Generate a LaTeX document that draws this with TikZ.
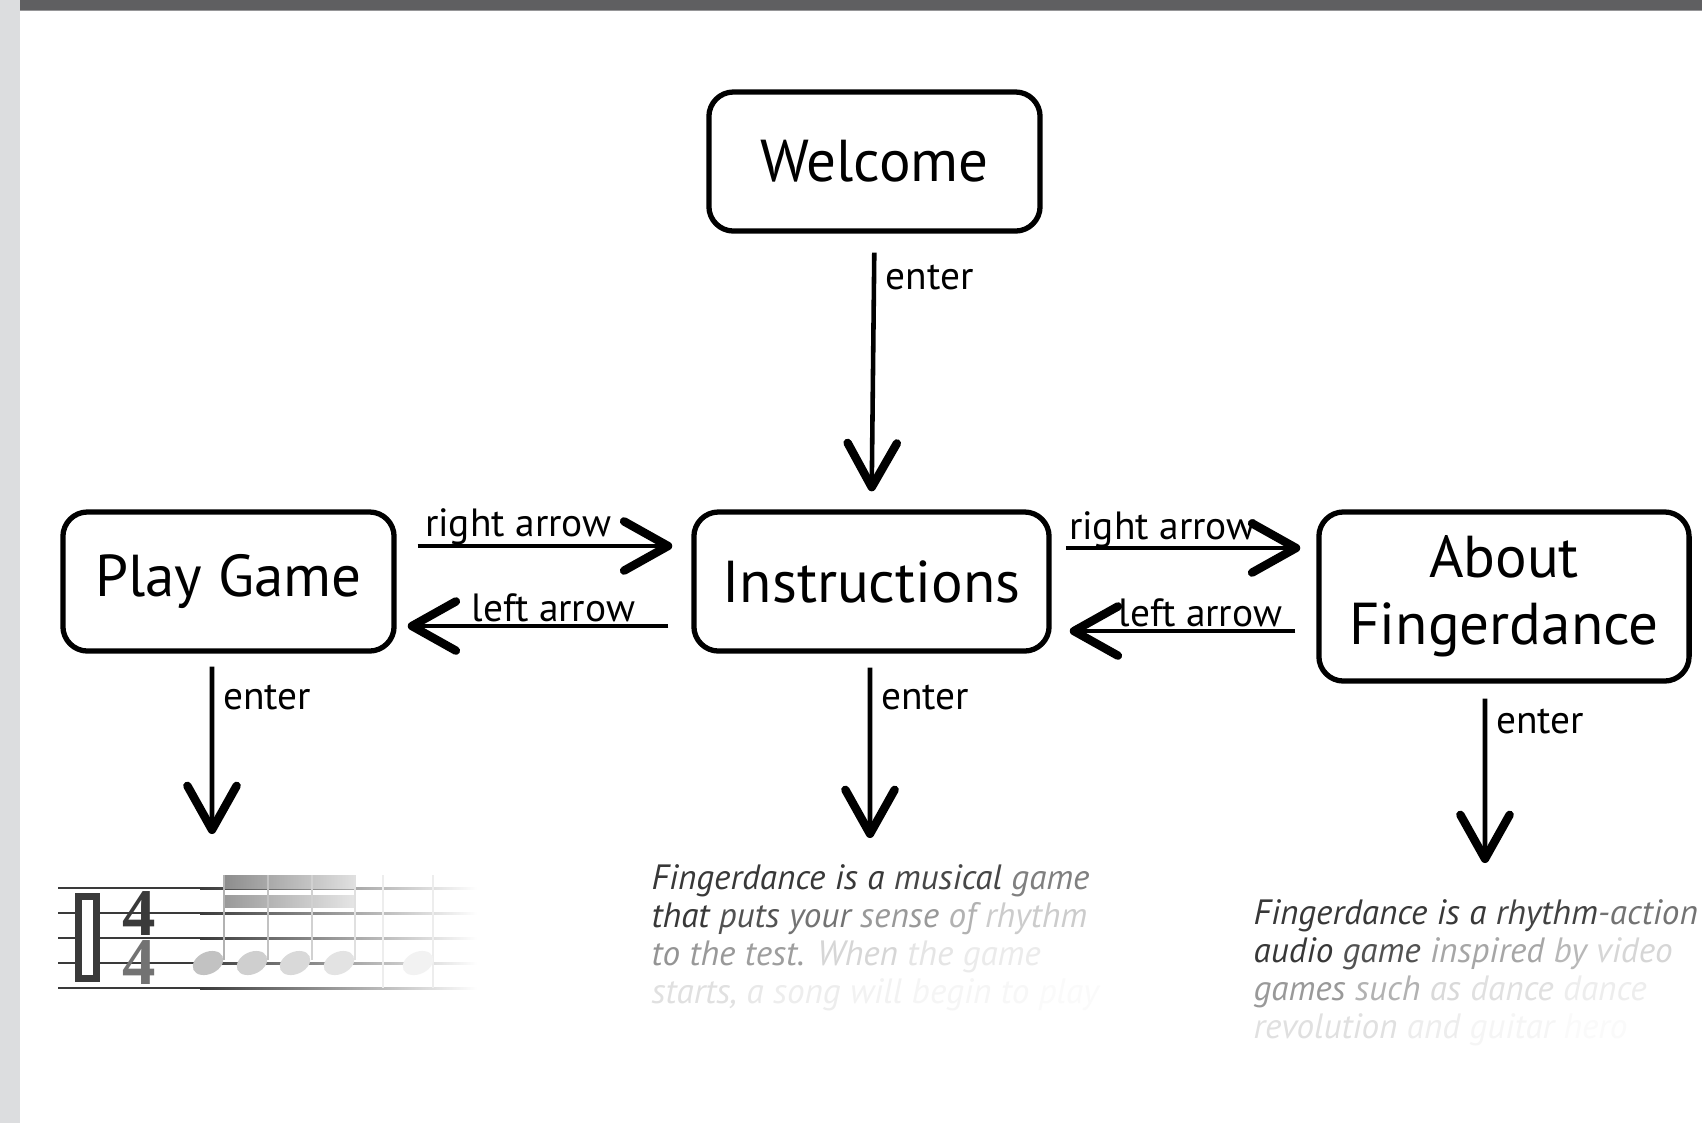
\documentclass[tikz,border=0pt]{standalone}
\usepackage{fontspec}
\setmainfont{PT Sans}
\newfontfamily\timesigfont{Liberation Serif}
\usetikzlibrary{arrows.meta,positioning,calc}
\definecolor{BarGray}{RGB}{95,95,97}
\definecolor{RuleGray}{RGB}{150,150,152}
\definecolor{SideGray}{RGB}{220,221,223}
\definecolor{InkGray}{RGB}{58,58,58}
\newcommand{\fw}[2]{\textcolor{black!#1}{#2}}
\tikzset{
  screenbox/.style={draw, line width=1.5pt, rounded corners=7pt, align=center,
    font=\fontsize{16.8}{19}\selectfont, inner sep=0pt},
  keyflow/.style={line width=1.3pt, -{Straight Barb[length=12.5pt,width=14pt,line width=2.4pt,round]}},
  keylabel/.style={font=\fontsize{11.2}{13}\selectfont, inner sep=0pt},
  enterlabel/.style={keylabel, pos=0, anchor=base west, xshift=2.5pt, yshift=-15.8pt},
  blurb/.style={font=\fontsize{10}{10.8}\selectfont\itshape, align=left, anchor=north west, inner sep=0pt},
}

\begin{document}
\begin{tikzpicture}[x=0.01cm, y=-0.01cm]
  \useasboundingbox (0,0) rectangle (1702,1123);
  % page frame
  \fill[white] (0,0) rectangle (1702,1123);
  \fill[SideGray] (0,0) rectangle (20,1123);
  \fill[BarGray] (20,0) rectangle (1702,10);
  \draw[RuleGray, line width=0.4pt] (20,10.5) -- (1702,10.5);

  % screens
  \node[screenbox, minimum width=3.31cm, minimum height=1.39cm] (welcome) at (874.5,161.5) {Welcome};
  \node[screenbox, minimum width=3.31cm, minimum height=1.39cm] (play) at (228.5,581.5) {Play Game};
  \node[screenbox, minimum width=3.55cm, minimum height=1.39cm] (instr) at (871.5,581.5) {Instructions};
  \node[screenbox, minimum width=3.70cm, minimum height=1.69cm] (about) at (1504,596.5) {About\\Fingerdance};

  % key presses
  \draw[keyflow, shorten <=0.19cm, shorten >=0.18cm] (welcome.south) -- (instr.north)
    node[enterlabel] {enter};
  \draw[keyflow, shorten <=0.21cm, shorten >=0.19cm] ([yshift=0.355cm]play.east) -- ([yshift=0.355cm]instr.west)
    node[keylabel, pos=0, anchor=base west, xshift=0.26cm, yshift=2.6pt] {right arrow};
  \draw[keyflow, shorten <=0.23cm, shorten >=0.11cm] ([yshift=-0.445cm]instr.west) -- ([yshift=-0.445cm]play.east)
    node[keylabel, pos=0, anchor=base east, xshift=-0.54cm, yshift=1.4pt] {left arrow};
  \coordinate (ia) at ([yshift=0.335cm]instr.east);
  \coordinate (ai) at ([yshift=-0.495cm]instr.east);
  \draw[keyflow, shorten <=0.14cm, shorten >=0.16cm] (ia) -- (ia -| about.west)
    node[keylabel, pos=0, anchor=base west, xshift=0.15cm, yshift=2.3pt] {right arrow};
  \draw[keyflow, shorten <=0.21cm, shorten >=0.18cm] (ai -| about.west) -- (ai)
    node[keylabel, pos=0, anchor=base east, xshift=-0.32cm, yshift=1.2pt] {left arrow};

  % enter arrows to the screens below
  \coordinate (playdown) at ([xshift=-0.165cm]play.south);
  \coordinate (scoretop) at (212,834);
  \draw[keyflow, shorten <=0.13cm] (playdown) -- (scoretop) node[enterlabel] {enter};
  \coordinate (instrdown) at ([xshift=-0.015cm]instr.south);
  \coordinate (texttop) at (870,838);
  \draw[keyflow, shorten <=0.14cm] (instrdown) -- (texttop) node[enterlabel] {enter};
  \coordinate (aboutdown) at ([xshift=-0.19cm]about.south);
  \coordinate (blurbtop) at (1485,863);
  \draw[keyflow, shorten <=0.15cm] (aboutdown) -- (blurbtop) node[enterlabel, yshift=1.5pt] {enter};

  % score fading out
  \foreach \y in {888,913,938,963,988} {
    \fill[InkGray] (58,\y-1) rectangle (200,\y+1);
    \shade[left color=InkGray, right color=white] (200,\y-1) rectangle (477,\y+1);
  }
  \filldraw[fill=white, draw=InkGray, line width=2pt] (78.5,896.5) rectangle (96.5,978.5);
  \node[font=\timesigfont\bfseries\fontsize{19}{13.9}\selectfont, text=InkGray, align=center, inner sep=0pt]
    (timesig) at (139,938) {4\\\textcolor{black!55}{4}};
  \shade[left color=black!45, right color=black!12] (223,875) rectangle (355,888);
  \shade[left color=black!40, right color=black!10] (223,895) rectangle (355,907);
  \foreach \x/\c in {224/30,268/24,312/18,355/12} {
    \fill[black!\c] (\x-1,875) rectangle (\x+1,960);
  }
  \foreach \x in {383,433} {
    \fill[black!7] (\x-1,875) rectangle (\x+1,988);
  }
  \foreach \x/\c in {208/24,252/19,295/15,339/11,418/5} {
    \fill[black!\c, rotate around={25:(\x,963)}] (\x,963) ellipse [x radius=0.16cm, y radius=0.11cm];
  }

  % screen texts
  \node[blurb] (instrtext) at (651,864) {%
    \fw{78}{Fingerdance} \fw{78}{is} \fw{78}{a} \fw{72}{musical} \fw{50}{game}\\
    \fw{78}{that} \fw{68}{puts} \fw{55}{your} \fw{40}{sense} \fw{30}{of} \fw{20}{rhythm}\\
    \fw{42}{to} \fw{40}{the} \fw{38}{test.} \fw{16}{When} \fw{10}{the} \fw{8}{game}\\
    \fw{12}{starts,} \fw{9}{a} \fw{7}{song} \fw{5}{will} \fw{4}{begin} \fw{3}{to} \fw{2}{play}};
  \node[blurb] (abouttext) at (1253,899) {%
    \fw{78}{Fingerdance} \fw{78}{is} \fw{78}{a} \fw{74}{rhythm}\fw{55}{-action}\\
    \fw{78}{audio} \fw{68}{game} \fw{35}{inspired} \fw{28}{by} \fw{16}{video}\\
    \fw{40}{games} \fw{30}{such} \fw{15}{as} \fw{12}{dance} \fw{7}{dance}\\
    \fw{12}{revolution} \fw{7}{and} \fw{4}{guitar} \fw{2}{hero}};
\end{tikzpicture}
\end{document}
